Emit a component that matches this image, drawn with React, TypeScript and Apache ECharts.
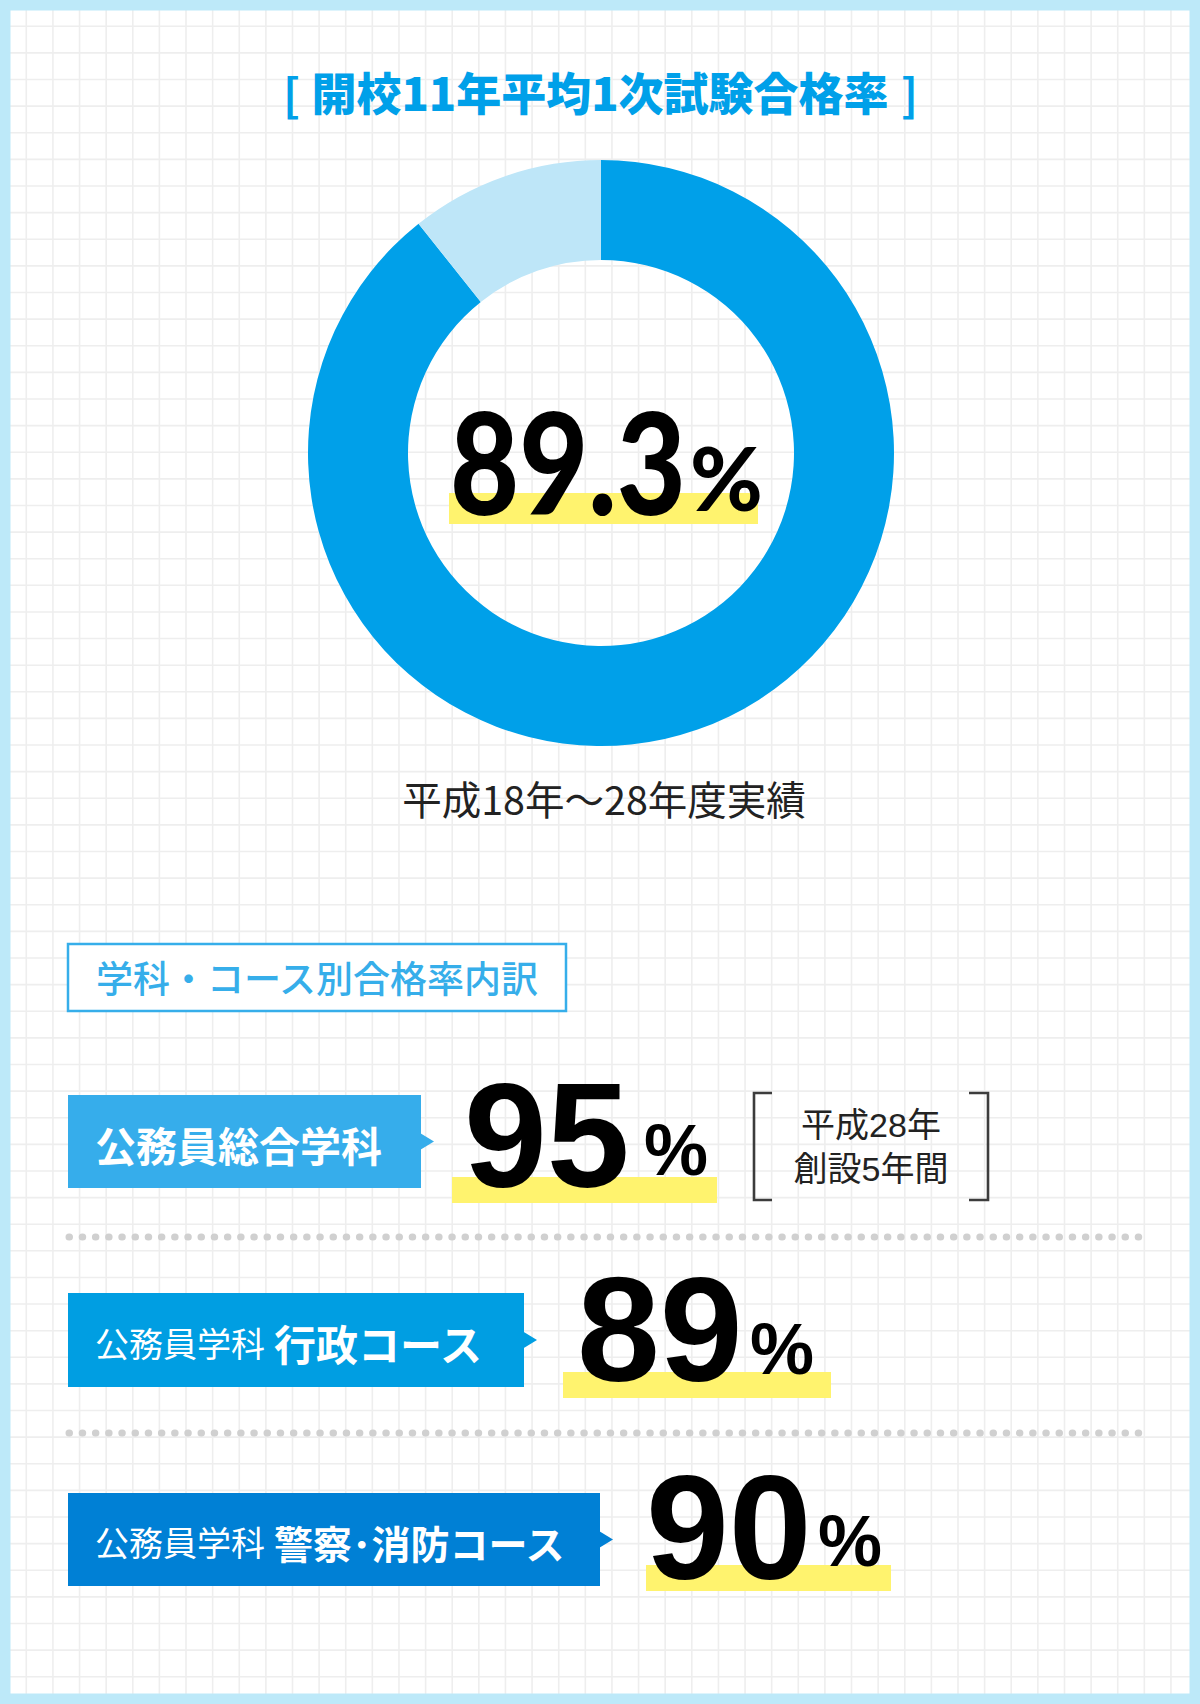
import React, { useEffect, useRef } from 'react';
import * as echarts from 'echarts';

// ---- data ----
const titleText = '開校11年平均1次試験合格率';
const avgRate = 89.3;
const donutValues = [avgRate, +(100 - avgRate).toFixed(1)];
const periodNote = '平成18年～28年度実績';
const subTitle = '学科・コース別合格率内訳';
const rowLabelPrefix = ['', '公務員学科', '公務員学科'];
const rowLabelMain = ['公務員総合学科', '行政コース', '警察･消防コース'];
const rowRates = [95, 89, 90];
const founderNote = ['平成28年', '創設5年間'];

// ---- layout / style ----
const W = 1200;
const H = 1704;
const CJK = '"Noto Sans CJK JP", "Noto Sans", sans-serif';
const NOTE_FONT = '"Liberation Sans", "Noto Sans CJK JP", sans-serif';
const NUM = '"Liberation Sans", Arial, sans-serif';
const GEO = 'Lato, "Noto Sans", sans-serif';
const BLUE = '#00a0e9';
const YELLOW = '#fff36e';
const GRID_START = 26.3;
const GRID_STEP = 26.62;

const rowLayout = [
  { top: 1095, bottom: 1188, boxRight: 421, color: '#36adeb', mainSize: 41, numX: 464, numY: 1135, pctX: 644, pctY: 1150, hlX: 452, hlY: 1177, hlW: 265 },
  { top: 1293, bottom: 1387, boxRight: 524, color: '#009ee2', mainSize: 42, numX: 577, numY: 1329, pctX: 750, pctY: 1349, hlX: 563, hlY: 1372, hlW: 268 },
  { top: 1493, bottom: 1586, boxRight: 600, color: '#0080d5', mainSize: 39, numX: 646, numY: 1527, pctX: 818, pctY: 1541, hlX: 646, hlY: 1565, hlW: 245 },
];
const dottedY = [1237, 1433];

export default function App() {
  const ref = useRef<HTMLDivElement>(null);
  useEffect(() => {
    document.body.style.margin = '0';
    const chart = echarts.init(ref.current as HTMLDivElement, null, { renderer: 'svg', width: W, height: H });
    const els: any[] = [];
    // background grid
    for (let x = GRID_START; x < W; x += GRID_STEP) {
      els.push({ type: 'line', z: 0, silent: true, shape: { x1: x, y1: 0, x2: x, y2: H }, style: { stroke: '#eeeeee', lineWidth: 1.6 } });
    }
    for (let y = GRID_START; y < H; y += GRID_STEP) {
      els.push({ type: 'line', z: 0, silent: true, shape: { x1: 0, y1: y, x2: W, y2: y }, style: { stroke: '#eeeeee', lineWidth: 1.6 } });
    }
    // title
    els.push({ type: 'text', z: 20, style: { text: '[', x: 283, y: 92, textAlign: 'left', textVerticalAlign: 'middle', fill: BLUE, fontSize: 45, fontWeight: 'bold', fontFamily: CJK } });
    els.push({ type: 'text', z: 20, style: { text: titleText, x: 600, y: 91, textAlign: 'center', textVerticalAlign: 'middle', fill: BLUE, fontSize: 45, fontWeight: 900, fontFamily: CJK } });
    els.push({ type: 'text', z: 20, style: { text: ']', x: 918, y: 92, textAlign: 'right', textVerticalAlign: 'middle', fill: BLUE, fontSize: 45, fontWeight: 'bold', fontFamily: CJK } });
    // donut center
    els.push({ type: 'rect', z: 10, silent: true, shape: { x: 449, y: 493, width: 309, height: 31 }, style: { fill: YELLOW } });
    els.push({ type: 'text', z: 20, x: 450, y: 460, scaleX: 0.84, style: { text: String(avgRate), x: 0, y: 0, textAlign: 'left', textVerticalAlign: 'middle', fill: '#000', fontSize: 142, fontWeight: 900, fontFamily: GEO } });
    els.push({ type: 'text', z: 20, style: { text: '%', x: 690, y: 477, textAlign: 'left', textVerticalAlign: 'middle', fill: '#000', fontSize: 88, fontWeight: 900, fontFamily: GEO } });
    els.push({ type: 'text', z: 20, style: { text: periodNote, x: 604, y: 797, textAlign: 'center', textVerticalAlign: 'middle', fill: '#222', fontSize: 39.5, fontFamily: CJK } });
    // subtitle box
    els.push({ type: 'rect', z: 5, shape: { x: 68, y: 944, width: 498, height: 67 }, style: { fill: '#fff', stroke: '#36aeea', lineWidth: 2.5 } });
    els.push({ type: 'text', z: 20, style: { text: subTitle, x: 317, y: 977, textAlign: 'center', textVerticalAlign: 'middle', fill: '#36aeea', fontSize: 37, fontWeight: 500, fontFamily: CJK } });
    // rows
    rowLayout.forEach((L, i) => {
      const cy = (L.top + L.bottom) / 2;
      els.push({ type: 'rect', z: 5, shape: { x: 68, y: L.top, width: L.boxRight - 68, height: L.bottom - L.top }, style: { fill: L.color } });
      els.push({ type: 'polygon', z: 5, shape: { points: [[L.boxRight - 1, cy - 8.5], [L.boxRight + 13, cy], [L.boxRight - 1, cy + 8.5]] }, style: { fill: L.color } });
      const txt = rowLabelPrefix[i] ? `{s|${rowLabelPrefix[i]}}{b|${rowLabelMain[i]}}` : `{b|${rowLabelMain[i]}}`;
      els.push({
        type: 'text', z: 20,
        style: {
          text: txt, x: 95, y: cy + 2, textAlign: 'left', textVerticalAlign: 'middle', fill: '#fff',
          rich: {
            s: { fill: '#fff', fontSize: 34, fontFamily: CJK, padding: [0, 9, 0, 0] },
            b: { fill: '#fff', fontSize: L.mainSize, fontWeight: 'bold', fontFamily: CJK },
          },
        },
      });
      els.push({ type: 'rect', z: 10, silent: true, shape: { x: L.hlX, y: L.hlY, width: L.hlW, height: 26 }, style: { fill: YELLOW } });
      els.push({ type: 'text', z: 20, style: { text: String(rowRates[i]), x: L.numX, y: L.numY, textAlign: 'left', textVerticalAlign: 'middle', fill: '#000', fontSize: 149, fontWeight: 'bold', fontFamily: NUM } });
      els.push({ type: 'text', z: 20, style: { text: '%', x: L.pctX, y: L.pctY, textAlign: 'left', textVerticalAlign: 'middle', fill: '#000', fontSize: 72, fontWeight: 'bold', fontFamily: NUM } });
    });
    // founder note brackets
    els.push({ type: 'polyline', z: 20, shape: { points: [[772, 1093], [754, 1093], [754, 1200], [772, 1200]] }, style: { stroke: '#3c3c3c', lineWidth: 2.6, fill: 'none' } });
    els.push({ type: 'polyline', z: 20, shape: { points: [[969, 1093], [988, 1093], [988, 1200], [969, 1200]] }, style: { stroke: '#3c3c3c', lineWidth: 2.6, fill: 'none' } });
    founderNote.forEach((t, i) => {
      els.push({ type: 'text', z: 20, style: { text: t, x: 871, y: 1125 + i * 43.5, textAlign: 'center', textVerticalAlign: 'middle', fill: '#222', fontSize: 34, fontFamily: NOTE_FONT } });
    });
    // dotted separators
    dottedY.forEach((y) => {
      els.push({ type: 'line', z: 20, shape: { x1: 69, y1: y, x2: 1140, y2: y }, style: { stroke: '#d0d0d0', lineWidth: 7, lineCap: 'round', lineDash: [0.5, 12.7] } });
    });
    // frame
    els.push({ type: 'rect', z: 50, silent: true, shape: { x: 5.25, y: 5.25, width: W - 10.5, height: H - 10.5 }, style: { fill: 'none', stroke: '#bde9f9', lineWidth: 10.5 } });

    chart.setOption({
      animation: false,
      backgroundColor: '#fff',
      series: [
        {
          type: 'pie',
          center: [601, 453],
          radius: [193, 293],
          startAngle: 90,
          clockwise: true,
          silent: true,
          label: { show: false },
          labelLine: { show: false },
          emphasis: { disabled: true },
          data: [
            { value: donutValues[0], name: '合格', itemStyle: { color: BLUE } },
            { value: donutValues[1], name: 'その他', itemStyle: { color: '#bee6f8' } },
          ],
        },
      ],
      graphic: { elements: els },
    });
    return () => chart.dispose();
  }, []);
  return <div ref={ref} style={{ width: W, height: H, position: 'absolute', left: 0, top: 0 }} />;
}
